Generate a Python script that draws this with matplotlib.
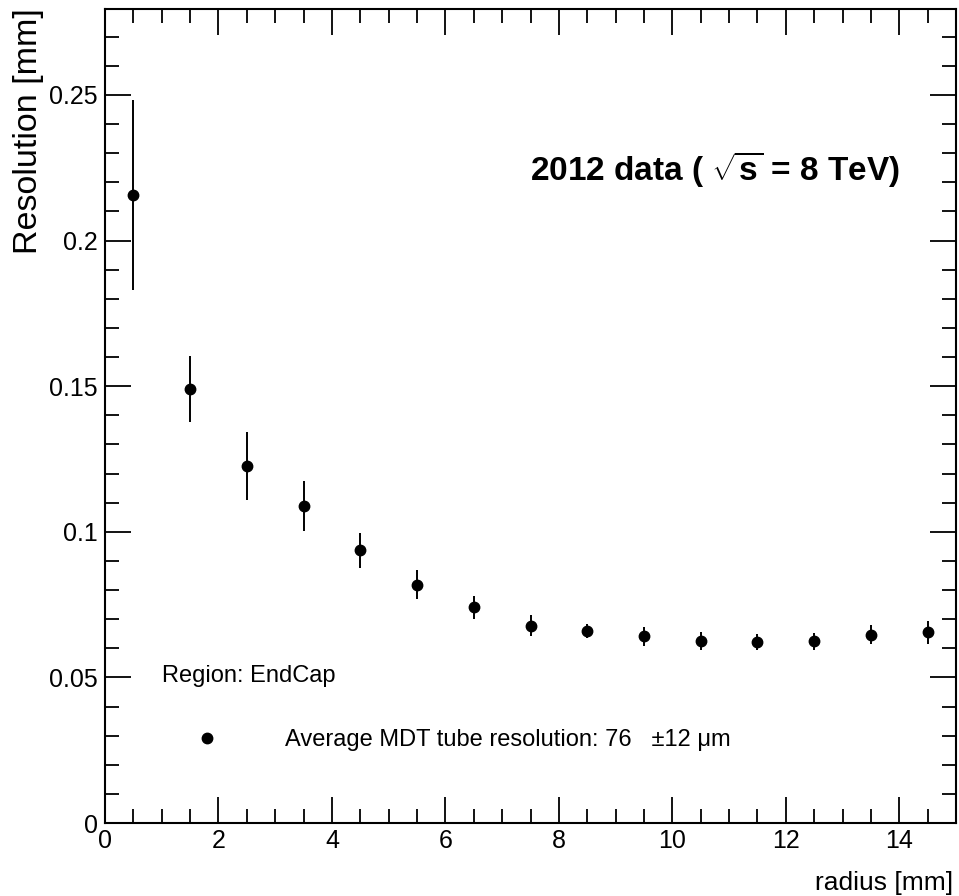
import matplotlib
matplotlib.use("Agg")
import matplotlib.pyplot as plt
from matplotlib import font_manager
from matplotlib.lines import Line2D
from matplotlib.ticker import MultipleLocator, FixedLocator

_names = {f.name for f in font_manager.fontManager.ttflist}
NARROW = 'Liberation Sans Narrow' in _names
FAM = 'Liberation Sans Narrow' if NARROW else 'Liberation Sans'

plt.rcParams['font.family'] = [FAM, 'Liberation Sans', 'DejaVu Sans']
plt.rcParams['mathtext.fontset'] = 'custom'
plt.rcParams['mathtext.rm'] = FAM
plt.rcParams['mathtext.bf'] = FAM + ':bold'
plt.rcParams['mathtext.it'] = FAM + ':italic'

# sizes (pt): narrow font allows matching both height and width
if NARROW:
    S_TICK, S_TITLE, S_REGION, S_LEG, S_XLAB = 21, 31, 19, 20, 22
else:
    S_TICK, S_TITLE, S_REGION, S_LEG, S_XLAB = 18, 24, 17, 17, 19
S_YLAB = 24.5

# Data
radius = [0.5, 1.5, 2.5, 3.5, 4.5, 5.5, 6.5, 7.5, 8.5, 9.5, 10.5, 11.5, 12.5, 13.5, 14.5]
resolution = [0.2155, 0.1490, 0.1226, 0.1090, 0.0936, 0.0818, 0.0741, 0.0678, 0.0659,
              0.0641, 0.0624, 0.0622, 0.0624, 0.0647, 0.0655]
res_err = [0.0326, 0.0112, 0.0116, 0.0086, 0.0060, 0.0049, 0.0040, 0.0037, 0.0025,
           0.0033, 0.0031, 0.0027, 0.0030, 0.0034, 0.0040]
x_ticks = [0, 2, 4, 6, 8, 10, 12, 14]
y_ticks = [0, 0.05, 0.1, 0.15, 0.2, 0.25]
y_tick_labels = ['0', '0.05', '0.1', '0.15', '0.2', '0.25']

fig = plt.figure(figsize=(9.59, 8.96), dpi=100)
ax = fig.add_axes([105/959, 1-823/896, 851/959, 814/896])

ax.errorbar(radius, resolution, yerr=res_err, fmt='o', color='black',
            markersize=7.5, elinewidth=1.4, capsize=0)

ax.set_xlim(0, 15)
ax.set_ylim(0, 0.2795)
ax.xaxis.set_major_locator(FixedLocator(x_ticks))
ax.xaxis.set_minor_locator(MultipleLocator(0.5))
ax.yaxis.set_major_locator(FixedLocator(y_ticks))
ax.set_yticklabels(y_tick_labels)
ax.yaxis.set_minor_locator(MultipleLocator(0.01))

for s in ax.spines.values():
    s.set_linewidth(1.5)

ax.tick_params(which='both', direction='in', top=True, right=True, width=1.3)
ax.tick_params(which='major', length=19, labelsize=S_TICK)
ax.tick_params(which='minor', length=10)
ax.tick_params(axis='x', which='major', pad=4)
ax.tick_params(axis='y', which='major', pad=5)

ax.set_ylabel('Resolution [mm]', fontsize=S_YLAB, family=['Liberation Sans', 'DejaVu Sans'])
ax.yaxis.label.set(rotation_mode='default', ha='center', va='top')
ax.yaxis.set_label_coords((29-105)/851, (823-8)/814)

ax.set_xlabel('radius [mm]', fontsize=S_XLAB)
ax.xaxis.label.set(ha='right', va='baseline')
ax.xaxis.set_label_coords((953-105)/851, (823-890)/814)

ax.text(0.4994, 0.79, r'2012 data ( $\sqrt{\mathbf{s}}$ = 8 TeV)', transform=ax.transAxes,
        fontsize=S_TITLE, fontweight='bold', ha='left', va='baseline')
ax.text(0.0666, 0.1736, 'Region: EndCap', transform=ax.transAxes,
        fontsize=S_REGION, ha='left', va='baseline')

em = S_LEG * 100 / 72.0
hl = 2.0
x0 = (207 - hl / 2 * em - 105) / 851
pad = (285 - 207) / em - hl / 2
handle = Line2D([], [], marker='o', linestyle='none', color='black', markersize=7.5)
ax.legend([handle], ['Average MDT tube resolution: 76   \u00b112 \u03bcm'],
          loc='center left', bbox_to_anchor=(x0, 0.102), frameon=False,
          fontsize=S_LEG, handlelength=hl, handletextpad=pad, borderpad=0,
          borderaxespad=0)

fig.savefig('out.png', dpi=100)
